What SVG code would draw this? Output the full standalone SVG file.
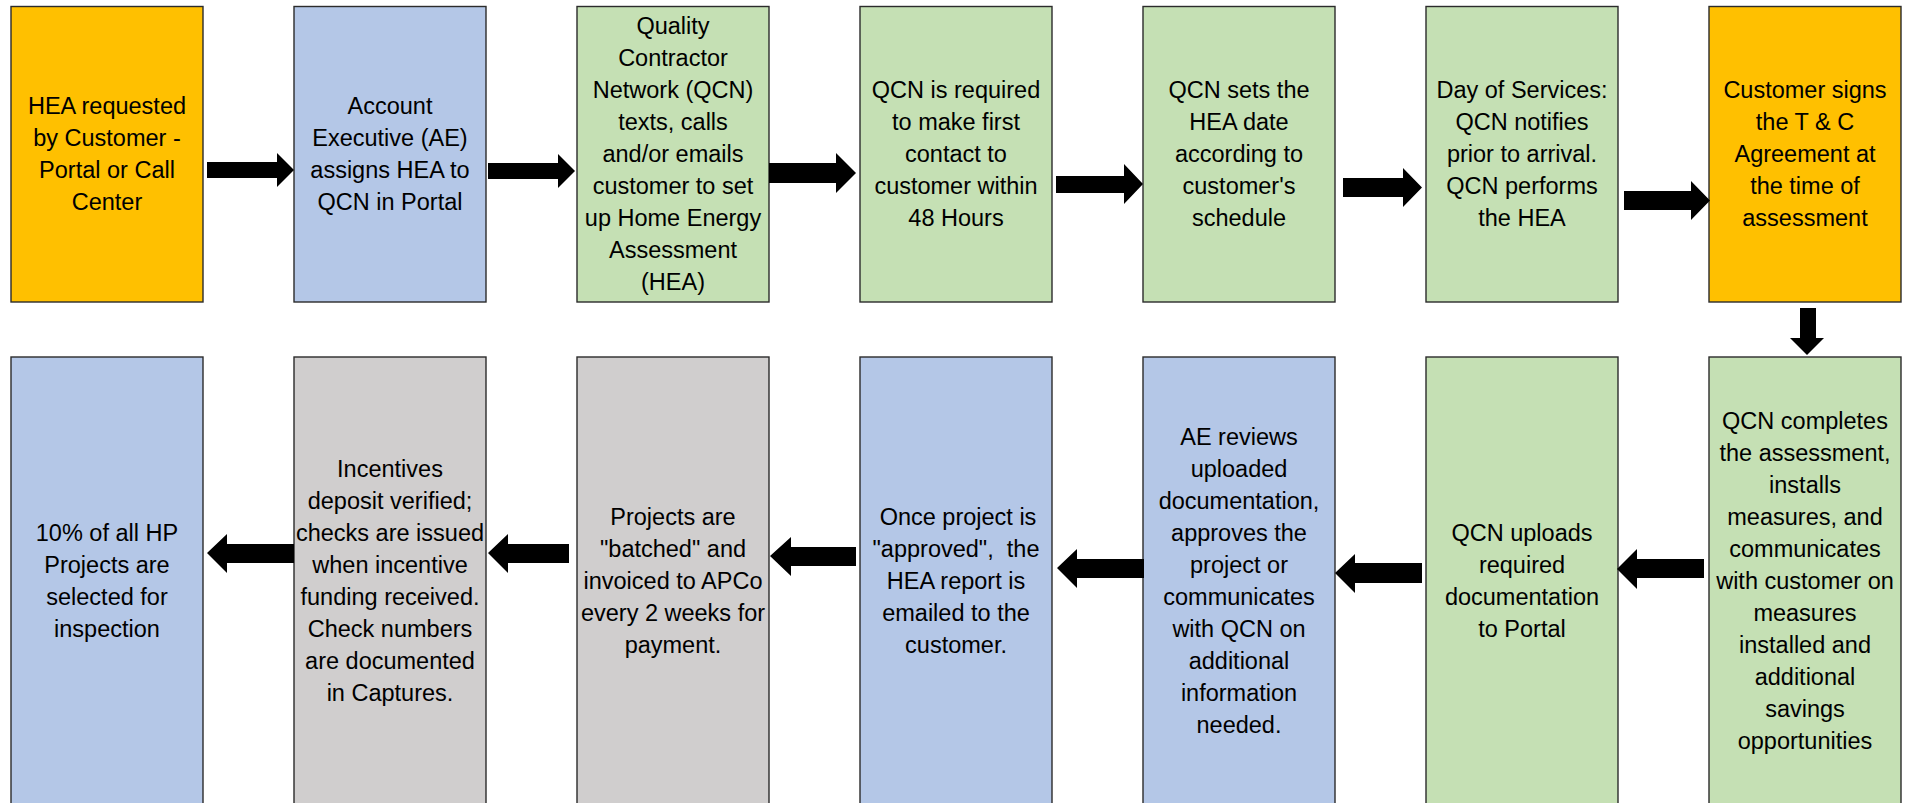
<svg xmlns="http://www.w3.org/2000/svg" width="1916" height="803" viewBox="0 0 1916 803">
<style>
.box{stroke:#2b2b2b;stroke-width:1.4}
.or{fill:#FFC000}.bl{fill:#B4C7E7}.gr{fill:#C5E0B4}.gy{fill:#D0CECE}
text{font-family:"Liberation Sans",Arial,sans-serif;font-size:23.5px;fill:#000;text-anchor:middle}
.arr{fill:#000}
</style>
<rect width="1916" height="803" fill="#fff"/>
<g id="n1"><rect class="box or" x="11" y="6.5" width="192" height="295.5"/>
<text x="107" y="114">HEA requested</text><text x="107" y="146">by Customer -</text><text x="107" y="178">Portal or Call</text><text x="107" y="210">Center</text></g>
<g id="n2"><rect class="box bl" x="294" y="6.5" width="192" height="295.5"/>
<text x="390" y="114">Account</text><text x="390" y="146">Executive (AE)</text><text x="390" y="178">assigns HEA to</text><text x="390" y="210">QCN in Portal</text></g>
<g id="n3"><rect class="box gr" x="577" y="6.5" width="192" height="295.5"/>
<text x="673" y="34">Quality</text><text x="673" y="66">Contractor</text><text x="673" y="98">Network (QCN)</text><text x="673" y="130">texts, calls</text><text x="673" y="162">and/or emails</text><text x="673" y="194">customer to set</text><text x="673" y="226">up Home Energy</text><text x="673" y="258">Assessment</text><text x="673" y="290">(HEA)</text></g>
<g id="n4"><rect class="box gr" x="860" y="6.5" width="192" height="295.5"/>
<text x="956" y="98">QCN is required</text><text x="956" y="130">to make first</text><text x="956" y="162">contact to</text><text x="956" y="194">customer within</text><text x="956" y="226">48 Hours</text></g>
<g id="n5"><rect class="box gr" x="1143" y="6.5" width="192" height="295.5"/>
<text x="1239" y="98">QCN sets the</text><text x="1239" y="130">HEA date</text><text x="1239" y="162">according to</text><text x="1239" y="194">customer's</text><text x="1239" y="226">schedule</text></g>
<g id="n6"><rect class="box gr" x="1426" y="6.5" width="192" height="295.5"/>
<text x="1522" y="98">Day of Services:</text><text x="1522" y="130">QCN notifies</text><text x="1522" y="162">prior to arrival.</text><text x="1522" y="194">QCN performs</text><text x="1522" y="226">the HEA</text></g>
<g id="n7"><rect class="box or" x="1709" y="6.5" width="192" height="295.5"/>
<text x="1805" y="98">Customer signs</text><text x="1805" y="130">the T &amp; C</text><text x="1805" y="162">Agreement at</text><text x="1805" y="194">the time of</text><text x="1805" y="226">assessment</text></g>
<g id="n8"><rect class="box gr" x="1709" y="357" width="192" height="450"/>
<text x="1805" y="429">QCN completes</text><text x="1805" y="461">the assessment,</text><text x="1805" y="493">installs</text><text x="1805" y="525">measures, and</text><text x="1805" y="557">communicates</text><text x="1805" y="589">with customer on</text><text x="1805" y="621">measures</text><text x="1805" y="653">installed and</text><text x="1805" y="685">additional</text><text x="1805" y="717">savings</text><text x="1805" y="749">opportunities</text></g>
<g id="n9"><rect class="box gr" x="1426" y="357" width="192" height="450"/>
<text x="1522" y="541">QCN uploads</text><text x="1522" y="573">required</text><text x="1522" y="605">documentation</text><text x="1522" y="637">to Portal</text></g>
<g id="n10"><rect class="box bl" x="1143" y="357" width="192" height="450"/>
<text x="1239" y="445">AE reviews</text><text x="1239" y="477">uploaded</text><text x="1239" y="509">documentation,</text><text x="1239" y="541">approves the</text><text x="1239" y="573">project or</text><text x="1239" y="605">communicates</text><text x="1239" y="637">with QCN on</text><text x="1239" y="669">additional</text><text x="1239" y="701">information</text><text x="1239" y="733">needed.</text></g>
<g id="n11"><rect class="box bl" x="860" y="357" width="192" height="450"/>
<text x="958" y="525">Once project is</text><text x="956" y="557">"approved",&#160; the</text><text x="956" y="589">HEA report is</text><text x="956" y="621">emailed to the</text><text x="956" y="653">customer.</text></g>
<g id="n12"><rect class="box gy" x="577" y="357" width="192" height="450"/>
<text x="673" y="525">Projects are</text><text x="673" y="557">"batched" and</text><text x="673" y="589">invoiced to APCo</text><text x="673" y="621">every 2 weeks for</text><text x="673" y="653">payment.</text></g>
<g id="n13"><rect class="box gy" x="294" y="357" width="192" height="450"/>
<text x="390" y="477">Incentives</text><text x="390" y="509">deposit verified;</text><text x="390" y="541">checks are issued</text><text x="390" y="573">when incentive</text><text x="390" y="605">funding received.</text><text x="390" y="637">Check numbers</text><text x="390" y="669">are documented</text><text x="390" y="701">in Captures.</text></g>
<g id="n14"><rect class="box bl" x="11" y="357" width="192" height="450"/>
<text x="107" y="541">10% of all HP</text><text x="107" y="573">Projects are</text><text x="107" y="605">selected for</text><text x="107" y="637">inspection</text></g>
<g id="connectors" class="arr">
<polygon points="207,162 277,162 277,153 294,170 277,187 277,178 207,178"/>
<polygon points="488,163 558,163 558,154 575,171 558,188 558,179 488,179"/>
<polygon points="769,163 836,163 836,153 856,173 836,193 836,183 769,183"/>
<polygon points="1056,176 1124,176 1124,164 1143,184 1124,204 1124,193 1056,193"/>
<polygon points="1343,178 1403,178 1403,168 1422,187.5 1403,207 1403,197 1343,197"/>
<polygon points="1624,191 1691,191 1691,181 1710,200.5 1691,220 1691,210 1624,210"/>
<polygon points="1800,308 1816,308 1816,338 1824,338 1807,355 1790,338 1800,338"/>
<polygon points="1704,559 1637,559 1637,549 1617,569 1637,589 1637,578 1704,578"/>
<polygon points="1422,563 1355,563 1355,554 1335,573 1355,593 1355,583 1422,583"/>
<polygon points="1144,559 1077,559 1077,549 1057,568 1077,588 1077,578 1144,578"/>
<polygon points="856,547 791,547 791,537 770,556 791,576 791,566 856,566"/>
<polygon points="569,544 508,544 508,534 488,553 508,573 508,563 569,563"/>
<polygon points="294,544 227,544 227,534 207,553 227,573 227,563 294,563"/>
</g>
</svg>
